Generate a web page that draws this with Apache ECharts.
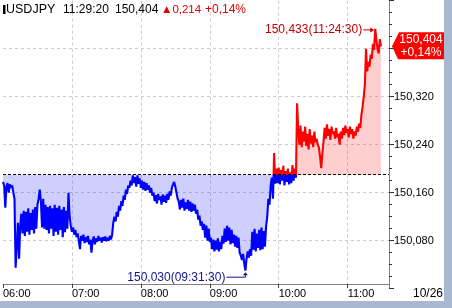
<!DOCTYPE html>
<html><head><meta charset="utf-8">
<script src="https://cdn.jsdelivr.net/npm/echarts@6/dist/echarts.min.js"></script>
<style>html,body{margin:0;padding:0;background:#fff;}#c{width:452px;height:308px;}</style>
</head><body><div id="c"></div>
<script>
// Price per minute, one array per hour (06:00 .. 11:29)
const h06 = [
 150.178,150.172,150.135,150.170,150.176,150.160,150.174,150.168,150.172,150.160,
 150.150,150.035,150.070,150.110,150.050,150.105,150.125,150.092,150.130,150.088,
 150.128,150.095,150.134,150.090,150.126,150.098,150.132,150.092,150.136,150.100,
 150.140,150.150,150.165,150.145,150.102,150.150,150.100,150.140,150.098,150.136,
 150.092,150.138,150.100,150.134,150.088,150.140,150.095,150.135,150.090,150.138,
 150.098,150.132,150.086,150.136,150.094,150.130,150.100,150.160,150.120,150.105];
const h07 = [
 150.095,150.102,150.090,150.098,150.086,150.092,150.080,150.066,150.088,150.080,
 150.090,150.076,150.086,150.078,150.088,150.074,150.082,150.060,150.080,150.087,
 150.074,150.084,150.078,150.088,150.080,150.085,150.077,150.086,150.080,150.087,
 150.079,150.085,150.080,150.088,150.082,150.090,150.110,150.120,150.112,150.128,
 150.120,150.138,150.130,150.146,150.138,150.155,150.148,150.165,150.158,150.172,
 150.168,150.180,150.172,150.189,150.176,150.186,150.170,150.189,150.175,150.184];
const h08 = [
 150.168,150.180,150.165,150.178,150.163,150.176,150.165,150.172,150.160,150.168,
 150.155,150.160,150.146,150.156,150.142,150.158,150.148,150.154,150.140,150.157,
 150.145,150.155,150.143,150.158,150.148,150.162,150.155,150.168,150.174,150.178,
 150.170,150.160,150.150,150.145,150.132,150.148,150.135,150.150,150.130,150.144,
 150.133,150.148,150.130,150.145,150.128,150.142,150.130,150.140,150.125,150.132,
 150.115,150.122,150.105,150.112,150.098,150.108,150.085,150.105,150.080,150.100];
const h09 = [
 150.078,150.085,150.066,150.082,150.062,150.080,150.065,150.084,150.062,150.078,
 150.066,150.088,150.075,150.100,150.078,150.105,150.080,150.102,150.074,150.098,
 150.076,150.090,150.070,150.088,150.068,150.085,150.060,150.055,150.048,150.058,
 150.042,150.030,150.050,150.062,150.052,150.066,150.055,150.095,150.065,150.100,
 150.062,150.092,150.068,150.098,150.064,150.102,150.066,150.096,150.070,150.104,
 150.120,150.150,150.140,150.172,150.185,150.150,150.226,150.175,150.200,150.176];
const h10 = [
 150.202,150.174,150.198,150.180,150.205,150.172,150.196,150.178,150.200,150.174,
 150.194,150.176,150.206,150.180,150.200,150.185,150.309,150.265,150.240,150.272,
 150.236,150.262,150.245,150.270,150.238,150.258,150.232,150.266,150.242,150.255,
 150.236,150.262,150.244,150.250,150.240,150.235,150.220,150.201,150.225,150.245,
 150.268,150.250,150.274,150.255,150.266,150.248,150.270,150.258,150.262,150.250,
 150.268,150.252,150.258,150.240,150.262,150.250,150.268,150.256,150.272,150.260];
const h11 = [
 150.266,150.252,150.270,150.258,150.266,150.250,150.262,150.255,150.270,150.262,
 150.275,150.268,150.290,150.303,150.320,150.340,150.400,150.362,150.378,150.370,
 150.390,150.383,150.408,150.398,150.433,150.415,150.400,150.392,150.416,150.404];

const tickLabels = ['06:00','07:00','08:00','09:00','10:00','11:00'];
const yLabelValues = [150.080, 150.160, 150.240, 150.320];
const dateLabel = '10/26';
const symbolName = 'USDJPY';
const lastTime = '11:29:20';
const prevClose = 150.190;
const highTime = '11:24:30';
const lowTime = '09:31:30';

const values = [].concat(h06, h07, h08, h09, h10, h11);
const data = values.map((v, i) => [i, v]);
const last = values[values.length - 1];
const fmt = v => v.toFixed(3).replace('.', ',');
const FONT = 'Liberation Sans';

const chart = echarts.init(document.getElementById('c'), null, {renderer: 'canvas'});
chart.setOption({
  animation: false,
  backgroundColor: '#fff',
  grid: {left: 2.7, right: 63, top: 0.7, bottom: 19.3, containLabel: false},
  xAxis: {
    type: 'value', min: 0, max: 336, interval: 60, offset: -4.7,
    axisLine: {show: true, onZero: false, lineStyle: {color: '#808080', width: 1}},
    axisTick: {show: true, length: 4, lineStyle: {color: '#404040'}},
    axisLabel: {show: true, showMaxLabel: false,
      formatter: v => tickLabels[Math.round(v / 60)] || '', align: 'left', margin: 4,
      padding: [0, 0, 0, 0], color: '#000', fontSize: 11, fontFamily: FONT},
    splitLine: {show: true, showMinLine: false, showMaxLine: false,
      lineStyle: {color: '#cccccc', type: [3, 3], width: 1}}
  },
  yAxis: {
    type: 'value', position: 'right', min: 150.0, max: 150.48, interval: 0.08,
    axisLine: {show: true, onZero: false, lineStyle: {color: '#808080', width: 1}},
    axisTick: {show: true, length: 5, lineStyle: {color: '#303030'}},
    minorTick: {show: true, splitNumber: 4, length: 3, lineStyle: {color: '#303030'}},
    axisLabel: {show: true, margin: 5, color: '#000', fontSize: 11, fontFamily: FONT,
      formatter: v => yLabelValues.some(y => Math.abs(y - v) < 1e-6) ? fmt(v) : ''},
    splitLine: {show: true, showMinLine: false, showMaxLine: false,
      lineStyle: {color: '#cccccc', type: [3, 3], width: 1}}
  },
  visualMap: {
    show: false, type: 'piecewise', seriesIndex: 0, dimension: 1,
    pieces: [{gte: 149.0, lt: prevClose, color: '#0000ff'}, {gte: prevClose, lte: 151.0, color: '#ff0000'}]
  },
  series: [{
    type: 'line', data: data, symbol: 'none', showSymbol: false,
    lineStyle: {width: 2.1, join: 'bevel'},
    areaStyle: {origin: prevClose, opacity: 0.19},
    markLine: {
      silent: true, symbol: ['none', 'none'], label: {show: false},
      lineStyle: {color: '#000', type: [3, 2], width: 1},
      data: [{yAxis: prevClose}]
    }
  }]
});

// annotations computed from data
let iMax = 0, iMin = 0;
values.forEach((v, i) => { if (v > values[iMax]) iMax = i; if (v < values[iMin]) iMin = i; });
const pMax = chart.convertToPixel({gridIndex: 0}, [iMax, values[iMax]]);
const pMin = chart.convertToPixel({gridIndex: 0}, [iMin, values[iMin]]);
const pLast = chart.convertToPixel({gridIndex: 0}, [values.length - 1, last]);
const axisX = chart.convertToPixel({gridIndex: 0}, [336, prevClose])[0];
const change = last - prevClose;
const pct = change / prevClose * 100;
const chgStr = fmt(Math.abs(change));
const pctStr = (change >= 0 ? '+' : '-') + Math.abs(pct).toFixed(2).replace('.', ',') + '%';

const hY = 9.5;
const txt = (x, y, s, color, size, align) => ({type: 'text', x: x, y: y, z: 100,
  style: {text: s, fill: color, font: size + 'px "' + FONT + '"', textAlign: align || 'left', textVerticalAlign: 'middle'}});

const graphics = [
  {type: 'rect', z: 100, shape: {x: 3, y: 5, width: 2.5, height: 9}, style: {fill: '#000'}},
  txt(6, hY, symbolName, '#000', 12.5),
  txt(63, hY, lastTime, '#000', 12),
  txt(115, hY, fmt(last), '#000', 12),
  txt(161, hY, (change >= 0 ? '\u25B2' : '\u25BC') + chgStr, '#e00000', 11.5),
  txt(205, hY, pctStr, '#e00000', 12),
  txt(pMax[0] - 13, pMax[1] + 1, fmt(values[iMax]) + '(' + highTime + ')', '#c80000', 12, 'right'),
  {type: 'line', z: 100, shape: {x1: pMax[0] - 12, y1: pMax[1] + 1, x2: pMax[0] - 3, y2: pMax[1] + 1}, style: {stroke: '#c80000', lineWidth: 1}},
  {type: 'polygon', z: 100, shape: {points: [[pMax[0] - 5, pMax[1] - 1.5], [pMax[0] - 5, pMax[1] + 3.5], [pMax[0] - 1, pMax[1] + 1]]}, style: {fill: '#c80000'}},
  txt(pMin[0] - 20, pMin[1] + 6.5, fmt(values[iMin]) + '(' + lowTime + ')', '#14148c', 12, 'right'),
  {type: 'polyline', z: 100, shape: {points: [[pMin[0] - 19, pMin[1] + 6.5], [pMin[0], pMin[1] + 6.5], [pMin[0], pMin[1] + 3]]}, style: {stroke: '#14148c', lineWidth: 1, fill: null}},
  {type: 'polygon', z: 100, shape: {points: [[pMin[0] - 2.5, pMin[1] + 4.5], [pMin[0] + 2.5, pMin[1] + 4.5], [pMin[0], pMin[1] + 1.5]]}, style: {fill: '#14148c'}},
  {type: 'polygon', z: 100, shape: {points: [[axisX + 3, pLast[1]], [axisX + 10, pLast[1] - 14], [446, pLast[1] - 14], [446, pLast[1] + 13], [axisX + 9, pLast[1] + 13]]}, style: {fill: '#ff0000'}},
  txt(421, pLast[1] - 6.5, fmt(last), '#fff', 12, 'center'),
  txt(421, pLast[1] + 6.5, pctStr, '#fff', 12, 'center'),
  txt(443, 293.5, dateLabel, '#000', 12, 'right'),
  {type: 'rect', z: 101, shape: {x: 444, y: 0, width: 8, height: 308}, style: {fill: '#a9b8d1'}},
  {type: 'rect', z: 101, shape: {x: 0, y: 301, width: 452, height: 7}, style: {fill: '#a9b8d1'}}
];
chart.setOption({graphic: graphics});
</script></body></html>
